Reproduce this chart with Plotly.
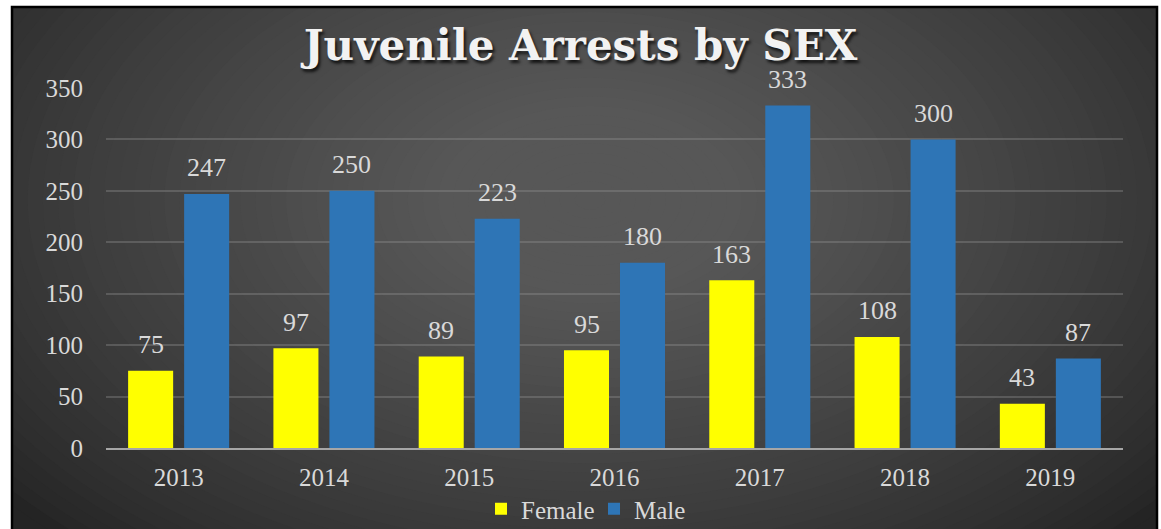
import plotly.graph_objects as go

years = ["2013", "2014", "2015", "2016", "2017", "2018", "2019"]
female = [75, 97, 89, 95, 163, 108, 43]
male = [247, 250, 223, 180, 333, 300, 87]
y_ticks = [0, 50, 100, 150, 200, 250, 300, 350]

W, H = 1161, 529
L, R, T, B = 106, 38, 88, 81
PW, PH = W - L - R, H - T - B

def px(x):
    return (x - L) / PW

def py(y):
    return (H - B - y) / PH

SERIF = "Liberation Serif"
LABEL = "#d9d9d9"

fig = go.Figure()
fig.add_trace(go.Bar(name="Female", x=years, y=female, marker=dict(color="#ffff00", line=dict(width=0)),
                     legend="legend", showlegend=True))
fig.add_trace(go.Bar(name="Male", x=years, y=male, marker=dict(color="#2e75b6", line=dict(width=0)),
                     legend="legend2", showlegend=True))

annotations = []
for i, (f, m) in enumerate(zip(female, male)):
    for val, sh in ((f, -28), (m, 28)):
        annotations.append(dict(x=i, y=val, xref="x", yref="y", text=str(val), showarrow=False, xshift=sh,
                                yshift=26, yanchor="middle", font=dict(family=SERIF, size=26, color=LABEL)))

# background: radial gradient approximated with stacked ellipses
shapes = []
N = 50
cx, cy = 590, 200
Rx, Ry = 760, 470
c_out = (0x24, 0x24, 0x24)
c_in = (0x57, 0x57, 0x57)
shapes.append(dict(type="rect", xref="paper", yref="paper", x0=px(11), x1=px(1158), y0=py(540), y1=py(6),
                   fillcolor="rgb(36,36,36)", line=dict(width=0), layer="below"))
for i in range(N):
    t = 1 - i / N
    u = min(1.0, (1 - t) / 0.8) ** 0.8
    col = tuple(int(round(c_out[k] + (c_in[k] - c_out[k]) * u)) for k in range(3))
    shapes.append(dict(type="circle", xref="paper", yref="paper",
                       x0=px(cx - Rx * t), x1=px(cx + Rx * t), y0=py(cy + Ry * t), y1=py(cy - Ry * t),
                       fillcolor="rgb(%d,%d,%d)" % col, line=dict(width=0), layer="below"))
# white margins
for (x0, x1, y0, y1) in ((-5, 11, -5, 540), (1158, 1170, -5, 540), (-5, 1170, -5, 6)):
    shapes.append(dict(type="rect", xref="paper", yref="paper", x0=px(x0), x1=px(x1), y0=py(y1), y1=py(y0),
                       fillcolor="white", line=dict(width=0), layer="below"))
shapes.append(dict(type="rect", xref="paper", yref="paper", x0=px(12), x1=px(1157), y0=py(540), y1=py(7),
                   fillcolor="rgba(0,0,0,0)", line=dict(width=2.5, color="black"), layer="below"))

leg_common = dict(orientation="h", yanchor="middle", y=py(509), xanchor="left", visible=True,
                  font=dict(family=SERIF, size=25, color=LABEL), bgcolor="rgba(0,0,0,0)", itemwidth=30)

fig.update_layout(
    width=W, height=H,
    showlegend=True,
    margin=dict(l=L, r=R, t=T, b=B, autoexpand=False),
    paper_bgcolor="white",
    plot_bgcolor="rgba(0,0,0,0)",
    barmode="group", bargap=0.229, bargroupgap=0.196,
    title=dict(text="<b>Juvenile Arrests by SEX</b>", x=0.5, xanchor="center", y=1 - 45 / H, yanchor="middle",
               font=dict(family="DejaVu Serif", size=42, color="#f2f2f2", shadow="2px 3px 3px rgba(0,0,0,0.75)")),
    xaxis=dict(type="category", categoryorder="array", categoryarray=years, range=[-0.5, len(years) - 0.5],
               showgrid=False, showline=True, linecolor="#a6a6a6", linewidth=2,
               ticks="", tickfont=dict(family=SERIF, size=25, color=LABEL), ticklabelstandoff=6, zeroline=False),
    yaxis=dict(range=[0, 350], tickvals=y_ticks, showgrid=True, gridcolor="rgba(150,150,150,0.35)", gridwidth=1.5,
               zeroline=False, showline=False, ticks="", tickfont=dict(family=SERIF, size=25, color=LABEL),
               ticklabelstandoff=22),
    legend=dict(x=px(481), **leg_common),
    legend2=dict(x=px(594), **leg_common),
    annotations=annotations,
    shapes=shapes,
)

fig.write_html("out.html", config={"displayModeBar": False},
               post_script="document.body.style.margin='0';document.body.style.overflow='hidden';")
